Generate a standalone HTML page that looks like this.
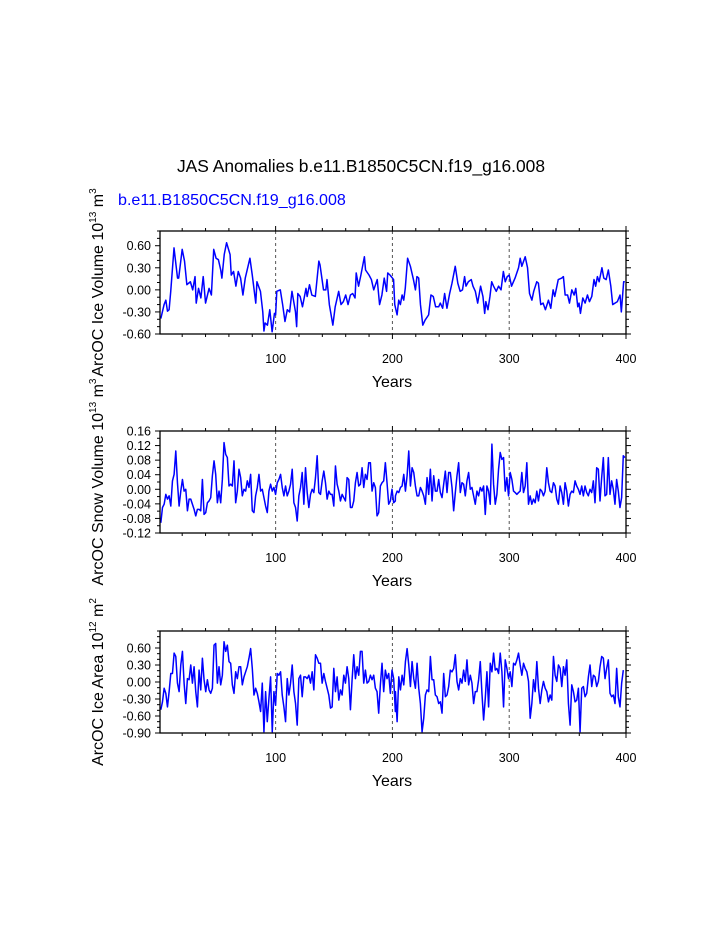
<!DOCTYPE html>
<html><head><meta charset="utf-8"><style>
html,body{margin:0;padding:0;background:#fff;}
svg{display:block;font-family:"Liberation Sans",Arial,sans-serif;}
</style></head><body>
<svg id="chart" width="723" height="935" viewBox="0 0 723 935" xmlns="http://www.w3.org/2000/svg">
<rect width="723" height="935" fill="#fff"/>
<text x="361" y="172" font-size="17.4" text-anchor="middle" fill="#000">JAS Anomalies b.e11.B1850C5CN.f19_g16.008</text>
<text x="118" y="205" font-size="16.1" fill="#0000ff">b.e11.B1850C5CN.f19_g16.008</text>
</svg>
<script>
// Panel 1: ice volume
const volYears = [1.7,4.5,6,7.4,8.8,10.2,13,16,17,20,22,24,27,29,31,32,34,36,38,40,43,45,47,49,51,53,54,56,58,61,62,64,66,68,70,72,74,78,80,83,84,87,89,90,91,93,95,97,99,100,101,104,106,108,110,112,114,117,118,119,121,123,126,127,129,131,134,137,138,141,143,144,146,149,151,154,156,158,160,162,164,166,168,169,171,173,176,177,180,182,184,187,189,191,193,195,196,198,201,202,
204,205.4,206.8,208.3,209.7,211,213,215.4,218,219.7,221,222.5,224,226,228,231,233,235,237,239.6,241,243,244.7,246.7,249,251,253.8,256,258,260,261.8,263,265,267.5,269,271,273,275.5,277.5,279,280,281.8,283.5,285,286.6,288.9,290.9,293,295,296.6,298.3,300,302,305,308,309.4,310.8,313.7,315.7,317.4,319.4,321,323.6,325,327,329,331,333.6,335.6,337.6,339,342,345,346.4,347.9,350,351.6,353.6,355.6,357,358.7,359.8,361,363,365,367,368.7,370.7,372.6,374,375.5,377,379.4,381,383,384.9,387,388.6,390.6,392.6,394.9,396,398,399];
const volValues = [-0.39,-0.2,-0.14,-0.29,-0.27,-0.02,0.57,0.16,0.16,0.55,0.39,0.07,0.11,0,0.18,-0.18,0.02,-0.11,0.18,-0.18,0.02,-0.07,0.55,0.43,0.41,0.27,0.16,0.48,0.64,0.48,0.2,0.25,0.05,0.25,0.16,-0.07,0.16,0.43,0.2,-0.18,0.11,-0.02,-0.3,-0.56,-0.45,-0.48,-0.27,-0.57,-0.32,-0.34,-0.02,0,-0.2,-0.43,-0.27,-0.3,-0.02,-0.3,-0.5,-0.05,-0.09,-0.23,0.02,-0.09,0.07,-0.07,-0.09,0.39,0.34,0,0,0.14,-0.2,-0.48,-0.23,-0.02,-0.2,-0.16,-0.07,-0.2,-0.07,-0.05,-0.11,0.23,0.05,0.2,0.45,0.27,0.2,0.14,0,0.14,-0.2,-0.07,0.16,-0.02,0.23,0.2,0.14,-0.2,
-0.34,-0.14,-0.2,-0.07,-0.14,0.02,0.43,0.32,0.14,0,0.18,0.16,-0.2,-0.48,-0.41,-0.34,-0.07,-0.09,-0.23,-0.23,-0.18,-0.25,-0.05,-0.25,-0.05,0.09,0.32,0.09,-0.02,0,0.18,0.05,0.11,0.14,0.05,-0.02,-0.18,0.05,-0.09,-0.32,-0.16,-0.27,-0.09,0.11,0.05,-0.02,0.05,0,0.25,0.11,0.18,0.2,0.05,0.16,0.3,0.43,0.32,0.45,0.3,-0.05,-0.14,-0.02,0.11,0.09,-0.2,-0.18,-0.27,-0.14,-0.25,0,-0.09,0.14,0.16,0.18,-0.07,-0.07,-0.18,0,-0.07,0.02,-0.23,-0.18,-0.32,-0.11,-0.18,-0.07,-0.16,-0.09,0.14,0.05,0.18,0.11,0.3,0.16,0.14,0.27,0.05,-0.2,-0.18,-0.16,-0.07,-0.3,0.11,0.11];

// Panel 2: snow volume (two evenly spaced segments)
const snowSegA = [1.7, 202.5];
const snowValuesA = [-0.092,-0.05,-0.041,-0.014,-0.027,-0.018,-0.046,0.023,0.041,0.105,0.018,-0.046,-0.005,0.027,-0.005,0,-0.059,-0.027,-0.027,-0.041,-0.055,-0.073,-0.055,-0.055,-0.059,0.027,-0.069,-0.064,-0.037,-0.032,-0.023,0.037,0.078,0.041,-0.037,-0.005,-0.037,0.027,0.128,0.096,0.087,0.009,0.014,0.009,0.078,-0.037,-0.005,0.055,0.032,-0.018,0,-0.005,0.023,0.005,0.041,-0.059,-0.064,-0.018,0.005,0.041,-0.005,0,-0.023,-0.046,-0.064,-0.005,0.014,-0.005,0.005,-0.014,0.018,0.027,0.041,0.005,-0.018,0.009,-0.018,-0.005,0.014,0.055,-0.037,-0.05,-0.087,-0.018,0.005,0.046,-0.041,0.059,-0.009,-0.05,-0.014,0,-0.009,0.032,0.092,-0.009,-0.014,0.023,0.05,0.018,-0.027,-0.005,-0.014,-0.014,-0.046,0.064,0.014,-0.005,-0.032,-0.014,-0.023,-0.032,0.032,0.027,-0.05,-0.05,-0.032,0.018,0.046,0.009,0.014,0.059,0.005,0.041,0.027,0.073,0.073,-0.005,0.018,0.005,-0.073,-0.064,0.009,0.018,0.023,0.073,0.018,-0.041,-0.032,0,-0.037,-0.032];
const snowSegB = [202.6, 399.1];
const snowValuesB = [-0.018,-0.005,-0.009,0.005,0.009,0.041,-0.005,0.037,0.105,0.009,0.059,0.046,0.009,-0.018,-0.018,0.005,-0.005,-0.018,-0.041,0.032,-0.014,0.055,-0.032,0.037,-0.005,-0.005,0.027,-0.009,-0.023,0.014,0.05,-0.009,0.046,0.046,0.005,-0.059,-0.009,0.037,0.073,-0.009,0.018,0.014,-0.018,0.023,0.046,0,0.005,-0.018,-0.041,-0.005,-0.018,0.005,-0.005,0.009,-0.069,0.009,-0.005,-0.041,0.124,0.014,-0.041,-0.014,0.055,0.101,0.082,0.087,-0.005,0.032,-0.018,0.046,0.027,-0.005,-0.009,-0.014,-0.009,-0.005,0.046,-0.009,0.009,0.073,-0.041,-0.018,-0.041,-0.027,-0.037,-0.005,-0.032,0,-0.005,-0.018,-0.005,0.059,0.018,-0.005,-0.009,0.018,0.009,-0.027,-0.041,0.009,-0.009,-0.041,0.018,-0.005,-0.046,-0.014,-0.005,-0.009,0.023,0.009,0,-0.014,0.009,-0.018,0.009,-0.009,-0.018,0,-0.009,0.023,-0.037,0.059,0.055,-0.032,0.032,0.087,-0.018,-0.014,0.087,-0.014,0.023,0,-0.041,0.027,-0.005,-0.05,-0.023,0.092,0.087];

// Panel 3: ice area
const areaSegA = [1.7, 202.5];
const areaValuesA = [-0.49,-0.35,-0.11,-0.2,-0.44,-0.17,0.15,0.15,0.51,0.45,-0.02,-0.17,0.3,0.54,-0.02,-0.38,0.06,0.04,0.3,-0.02,0.27,-0.17,-0.44,0.21,-0.14,0.42,0.04,-0.17,0.04,-0.14,-0.2,-0.11,0.65,0.68,-0.02,0.27,-0.05,0.12,0.71,0.54,0.65,0.36,0.33,-0.05,-0.2,0.18,0.06,0.27,0.27,-0.05,0.09,0.18,0.27,0.42,0.59,0.24,-0.23,-0.11,-0.2,-0.35,-0.52,-0.02,-0.88,-0.17,-0.7,-0.29,0.09,-0.88,-0.17,-0.41,0.15,0.12,0.18,-0.23,-0.44,-0.7,0.06,-0.23,-0.02,0.3,-0.17,-0.38,-0.76,0.06,0.12,-0.26,0.09,0.09,0.06,0.12,-0.02,0.18,-0.14,0.48,0.42,0.33,0.33,-0.02,0.15,0.01,-0.11,-0.23,-0.46,-0.44,0.24,-0.17,0.09,-0.32,-0.14,-0.23,0.12,-0.02,0.27,0.06,-0.49,0.04,0.48,0.06,0.27,0.12,0.54,0.54,-0.02,0.21,-0.02,0.01,0.12,0.04,0.12,-0.11,-0.17,-0.55,-0.05,0.33,-0.17,0.21,0.06,0.15,-0.2,0.21,0.06,-0.52];
const areaSegB = [202.6, 397.7];
const areaValuesB = [-0.17,-0.7,0.09,-0.14,0.12,-0.05,0.36,0.59,0.3,-0.08,0.36,0.06,-0.11,0.33,-0.11,-0.38,-0.88,-0.64,-0.23,-0.14,-0.17,0.45,0.04,0.04,-0.23,-0.26,-0.38,-0.35,-0.55,0.15,-0.26,-0.23,-0.08,0.21,0.18,0.24,0.48,0.01,-0.14,0.06,-0.02,0.21,0.01,0.39,-0.05,0.12,-0.02,-0.38,-0.17,-0.17,0.04,0.36,-0.2,-0.67,-0.29,0.18,-0.44,0.33,0.18,0.51,0.21,0.24,0.15,0.51,0.18,-0.44,0.39,0.24,0.06,0.18,-0.08,0.33,0.3,0.39,0.51,0.3,0.12,0.33,0.24,0.18,0.01,-0.64,-0.38,0.04,-0.17,0.36,-0.11,-0.38,-0.14,0.01,-0.11,-0.17,-0.35,-0.23,-0.32,0.45,0.12,0.01,0.3,0.24,-0.08,0.27,0.12,0.39,-0.38,-0.76,-0.05,-0.17,-0.35,-0.32,-0.11,-0.88,-0.11,-0.08,-0.26,-0.2,0.09,0.3,-0.08,0.12,0.09,-0.08,0.01,0.27,0.45,0.42,0.06,0.24,0.39,-0.2,-0.26,-0.23,-0.38,0.24,-0.26,-0.44,-0.02,0.21];

const xTicks = [100,200,300,400];
const volTicks = ["0.60","0.30","0.00","-0.30","-0.60"];
const snowTicks = ["0.16","0.12","0.08","0.04","0.00","-0.04","-0.08","-0.12"];
const areaTicks = ["0.60","0.30","0.00","-0.30","-0.60","-0.90"];

const NS = "http://www.w3.org/2000/svg";
const svg = document.getElementById('chart');
function mk(tag, attrs, parent){
  const e = document.createElementNS(NS, tag);
  for (const k in attrs) e.setAttribute(k, attrs[k]);
  (parent||svg).appendChild(e);
  return e;
}
function even(seg, n){ const a=[]; for(let i=0;i<n;i++) a.push(seg[0]+(seg[1]-seg[0])*i/(n-1)); return a; }

const X0=160, X1=626, YR0=1, YR1=400;
function xs(y){ return X0 + (y-YR0)/(YR1-YR0)*(X1-X0); }

function panel(cfg){
  const {name, top, bottom, ymin, ymax, ticks, minorStep, years, values, titleLines} = cfg;
  const ys = v => bottom - (v-ymin)/(ymax-ymin)*(bottom-top);
  const g = mk('g', {});
  
  
  [100,200,300].forEach(t=>{
    const l = mk('line',{x1:xs(t),x2:xs(t),y1:top,y2:bottom,stroke:'#555','stroke-width':1,'stroke-dasharray':'3,3'},g);
    
    
  });
  let d='';
  for(let i=0;i<years.length;i++){ d += (i?'L':'M')+xs(years[i]).toFixed(2)+','+ys(values[i]).toFixed(2); }
  const p = mk('path',{d:d,fill:'none',stroke:'#0000ff','stroke-width':1.5,'stroke-linejoin':'round'},g);
  
  
  const fr = mk('rect',{x:X0,y:top,width:X1-X0,height:bottom-top,fill:'none',stroke:'#000','stroke-width':1.3},g);
  
  
  for(let yr=20; yr<=400; yr+=20){
    const major = yr%100===0, len = major?5:3, x=xs(yr);
    mk('line',{x1:x,x2:x,y1:bottom,y2:bottom+len,stroke:'#000','stroke-width':1},g);
    mk('line',{x1:x,x2:x,y1:top,y2:top-len,stroke:'#000','stroke-width':1},g);
  }
  xTicks.forEach(t=>{
    const tx = mk('text',{x:xs(t),y:bottom+29,'font-size':12.5,'text-anchor':'middle'},g);
    tx.textContent = t;
    
    
  });
  const xt = mk('text',{x:392,y:bottom+53,'font-size':16,'text-anchor':'middle'},g);
  xt.textContent='Years';
  
  
  const nMinor = Math.round((ymax-ymin)/minorStep);
  for(let i=0;i<=nMinor;i++){
    const v = ymin + i*minorStep, y=ys(v);
    const isMajor = ticks.some(t=>Math.abs(parseFloat(t)-v)<1e-6);
    const len = isMajor?5:3;
    mk('line',{x1:X0-len,x2:X0,y1:y,y2:y,stroke:'#000','stroke-width':1},g);
    mk('line',{x1:X1,x2:X1+len,y1:y,y2:y,stroke:'#000','stroke-width':1},g);
  }
  ticks.forEach(t=>{
    const tx = mk('text',{x:X0-9,y:ys(parseFloat(t))+4.5,'font-size':12.5,'text-anchor':'end'},g);
    tx.textContent = t;
    
    
  });
  const cy = (top+bottom)/2;
  const yt = mk('text',{x:0,y:0,'font-size':16,'text-anchor':'middle',transform:`translate(${cfg.titleX},${cy}) rotate(-90)`},g);
  yt.innerHTML = titleLines;
  
  
}

panel({name:'ice-volume', top:231, bottom:334, ymin:-0.6, ymax:0.8, ticks:volTicks, minorStep:0.1,
  years:volYears, values:volValues, titleX:103,
  titleLines:'ArcOC Ice Volume 10<tspan font-size="10" dy="-7">13</tspan><tspan dy="7"> m</tspan><tspan font-size="10" dy="-7">3</tspan>'});
panel({name:'snow-volume', top:431, bottom:533, ymin:-0.12, ymax:0.16, ticks:snowTicks, minorStep:0.02,
  years:even(snowSegA,snowValuesA.length).concat(even(snowSegB,snowValuesB.length)), values:snowValuesA.concat(snowValuesB), titleX:103,
  titleLines:'ArcOC Snow Volume 10<tspan font-size="10" dy="-7">13</tspan><tspan dy="7"> m</tspan><tspan font-size="10" dy="-7">3</tspan>'});
panel({name:'ice-area', top:631, bottom:733, ymin:-0.9, ymax:0.9, ticks:areaTicks, minorStep:0.1,
  years:even(areaSegA,areaValuesA.length).concat(even(areaSegB,areaValuesB.length)), values:areaValuesA.concat(areaValuesB), titleX:103,
  titleLines:'ArcOC Ice Area 10<tspan font-size="10" dy="-7">12</tspan><tspan dy="7"> m</tspan><tspan font-size="10" dy="-7">2</tspan>'});
</script>
</body></html>
